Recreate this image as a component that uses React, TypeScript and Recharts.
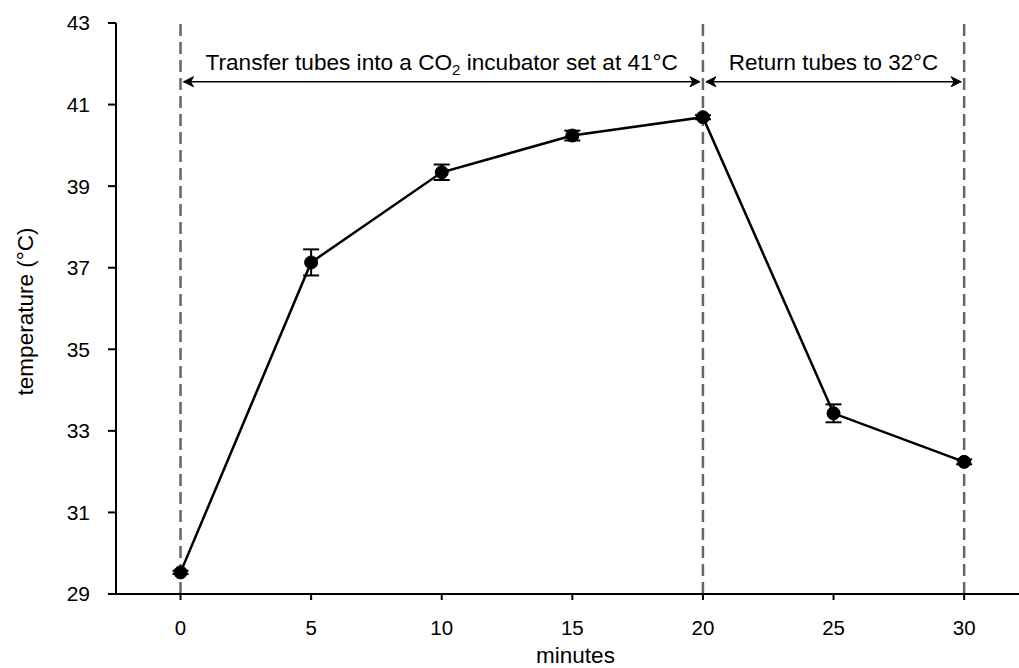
import { LineChart, Line, XAxis, YAxis, ErrorBar, ReferenceLine } from 'recharts'

const minutes = [0, 5, 10, 15, 20, 25, 30]
const temperature = [29.53, 37.13, 39.34, 40.24, 40.69, 33.43, 32.24]
const tempError = [0.04, 0.32, 0.19, 0.12, 0.05, 0.22, 0.06]

const xTicks = [0, 5, 10, 15, 20, 25, 30]
const yTicks = [29, 31, 33, 35, 37, 39, 41, 43]

// vertical dashed markers and the phase arrows between them
const markers = [0, 20, 30]
const phases = [
  { from: 0, to: 20, label: 'co2' },
  { from: 20, to: 30, label: 'Return tubes to 32°C' },
]
const arrowLevel = 41.56

const data = minutes.map((m, i) => ({ m, t: temperature[i], err: tempError[i] }))

const font = '"Liberation Sans", Arial, sans-serif'

function Head({ x, y, dir }: { x: number; y: number; dir: number }) {
  // dir = 1 points right, -1 points left
  return (
    <path
      d={`M${x},${y} L${x - dir * 10},${y - 5} L${x - dir * 7},${y} L${x - dir * 10},${y + 5} Z`}
      fill="#000"
      stroke="#000"
      strokeWidth={1}
    />
  )
}

function makeArrow(label: string) {
  return (props: any) => {
    const { x1, y1, x2 } = props
    const a = Math.min(x1, x2) + 3
    const b = Math.max(x1, x2) - 3
    const cx = (a + b) / 2
    return (
      <g>
        <line x1={a} y1={y1} x2={b} y2={y1} stroke="#000" strokeWidth={1.5} />
        <Head x={a} y={y1} dir={-1} />
        <Head x={b} y={y1} dir={1} />
        {label === 'co2' ? (
          <text x={cx} y={y1 - 12} textAnchor="middle" fontSize={22.6} fontFamily={font} fill="#000">
            Transfer tubes into a CO
            <tspan fontSize={15} dy={5}>2</tspan>
            <tspan dy={-5}> incubator set at 41°C</tspan>
          </text>
        ) : (
          <text x={cx} y={y1 - 12} textAnchor="middle" fontSize={22.4} fontFamily={font} fill="#000">
            {label}
          </text>
        )}
      </g>
    )
  }
}

export default function App() {
  return (
    <div style={{ position: 'absolute', left: 0, top: 0, background: '#fff' }}>
      <LineChart
        width={1019}
        height={668}
        data={data}
        margin={{ top: 23, right: 0, bottom: 0, left: 0 }}
        style={{ fontFamily: font }}
      >
        <XAxis
          dataKey="m"
          type="number"
          domain={[-2.47, 32.1]}
          ticks={xTicks}
          allowDataOverflow
          height={74}
          axisLine={{ stroke: '#000', strokeWidth: 2 }}
          tickLine={{ stroke: '#000', strokeWidth: 2 }}
          tickSize={6}
          tickMargin={20}
          tick={{ fill: '#000', fontSize: 20.5 }}
          label={(p: any) => {
            const vb = p.viewBox
            return (
              <text x={vb.x + vb.width / 2 + 8} y={vb.y + 69} textAnchor="middle" fontSize={22.5} fill="#000">
                minutes
              </text>
            )
          }}
        />
        <YAxis
          type="number"
          domain={[29, 43]}
          ticks={yTicks}
          width={116}
          axisLine={{ stroke: '#000', strokeWidth: 2 }}
          tickLine={{ stroke: '#000', strokeWidth: 2 }}
          tickSize={8}
          tickMargin={18}
          tick={{ fill: '#000', fontSize: 21 }}
          label={(p: any) => {
            const vb = p.viewBox
            const cy = vb.y + vb.height / 2 + 3
            return (
              <text
                x={25}
                y={cy}
                transform={`rotate(-90, 25, ${cy})`}
                textAnchor="middle"
                dominantBaseline="central"
                fontSize={22.5}
                fill="#000"
              >
                temperature (°C)
              </text>
            )
          }}
        />
        {markers.map((x) => (
          <ReferenceLine key={x} x={x} stroke="#666" strokeWidth={2.5} strokeDasharray="12 6" />
        ))}
        {phases.map((p) => (
          <ReferenceLine
            key={p.from}
            segment={[
              { x: p.from, y: arrowLevel },
              { x: p.to, y: arrowLevel },
            ]}
            shape={makeArrow(p.label)}
          />
        ))}
        <Line
          dataKey="t"
          stroke="#000"
          strokeWidth={2.5}
          dot={{ r: 6.5, fill: '#000', stroke: '#000', strokeWidth: 1 }}
          activeDot={false}
          isAnimationActive={false}
        >
          <ErrorBar dataKey="err" direction="y" width={8} stroke="#000" strokeWidth={2} />
        </Line>
      </LineChart>
    </div>
  )
}
